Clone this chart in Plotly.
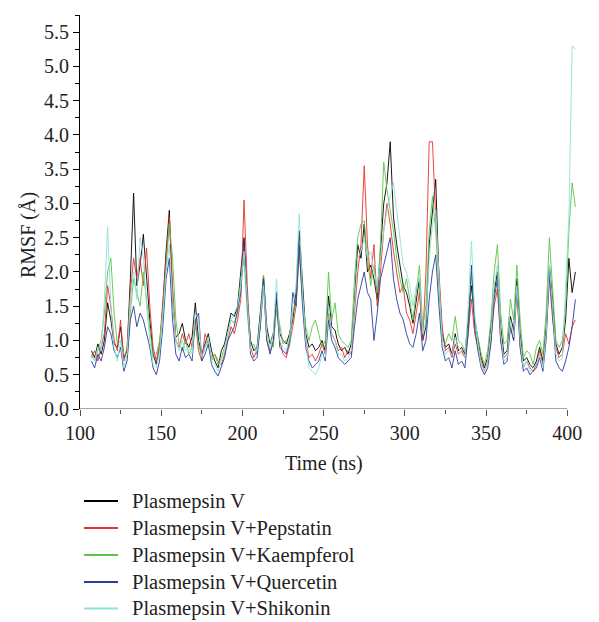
import plotly.graph_objects as go

residues = list(range(107, 406, 2))

plasmepsin_v = [
    0.85, 0.75, 0.95, 0.8, 1.0, 1.55, 1.3, 0.95, 0.9, 1.2,
    0.75, 0.85, 1.9, 3.15, 1.8, 2.1, 2.55, 1.9, 1.3, 0.8,
    0.65, 0.9, 1.5, 2.3, 2.9, 1.6, 1.05, 1.1, 1.25, 1.0,
    0.9, 1.05, 1.55, 1.0, 0.8, 0.95, 1.1, 0.85, 0.7, 0.6,
    0.85, 0.95, 1.2, 1.4, 1.35, 1.5, 2.0, 2.5, 1.6, 1.0,
    0.85, 0.9, 1.4, 1.95, 1.2, 0.95, 1.1, 1.6, 1.1, 1.0,
    0.95, 1.1, 1.3, 1.7, 2.6, 1.8, 1.1, 0.9, 0.95, 0.85,
    0.9, 1.0, 0.85, 1.65, 1.2, 1.15, 0.95, 0.85, 0.9, 0.8,
    0.95, 1.6, 2.4, 2.2, 2.7, 2.0, 2.1, 1.9, 1.6, 2.3,
    3.0, 3.3, 3.9, 2.8, 2.4, 2.1, 1.8, 1.7, 1.5, 1.25,
    1.6, 1.9, 1.0, 1.2, 2.4, 2.9, 3.35, 1.9, 1.1, 0.9,
    0.95, 0.8, 1.1, 0.85, 0.9, 0.8, 1.3, 1.8, 1.3, 1.0,
    0.75, 0.6, 0.75, 1.2, 1.7, 2.0, 1.2, 0.8, 0.85, 1.35,
    1.15, 1.9, 1.1, 0.7, 0.75, 0.65, 0.6, 0.7, 0.9, 0.7,
    1.2, 2.1, 1.6, 0.95, 0.8, 0.9, 1.3, 2.2, 1.7, 2.0,
]

pepstatin = [
    0.75, 0.85, 0.7, 0.9, 1.1, 1.8, 1.5, 1.0, 0.85, 1.3,
    0.7, 0.9, 1.7, 2.2, 1.9, 2.2, 1.8, 2.35, 1.5, 0.9,
    0.7, 0.95, 1.6, 2.2, 2.8, 1.8, 1.0, 0.9, 1.1, 0.95,
    1.1, 0.9, 1.3, 0.85, 0.7, 1.1, 0.95, 0.75, 0.8, 0.7,
    0.65, 0.8, 1.0, 1.2, 1.1, 1.3, 1.6, 3.05, 1.8, 0.9,
    0.75, 0.85, 1.2, 1.8, 1.0, 0.85, 0.95, 1.5, 1.0, 0.8,
    0.75, 0.95, 1.2, 1.5, 2.3, 1.6, 1.0, 0.75, 0.8, 0.7,
    0.8, 0.95, 0.8, 1.4, 1.1, 1.0, 0.85, 0.9, 0.75, 0.85,
    0.8, 1.4, 2.0, 2.4, 3.55, 2.4, 1.9, 2.4, 1.5, 2.0,
    2.6, 3.0, 2.7, 2.3, 2.0, 1.7, 1.8, 1.4, 1.3, 1.1,
    1.4, 1.7, 1.0, 2.0, 3.9, 3.9, 2.8, 2.0, 1.2, 0.85,
    0.9, 0.75, 0.95, 0.8, 0.85, 0.75, 1.1, 1.6, 1.1, 0.9,
    0.7, 0.55, 0.7, 1.0, 1.5, 1.75, 1.0, 0.75, 0.8, 1.2,
    1.0, 1.7, 0.9, 0.6, 0.7, 0.6, 0.55, 0.65, 0.85, 0.65,
    1.1, 1.9, 1.3, 0.9, 0.75, 0.8, 1.1, 0.95, 1.2, 1.3,
]

kaempferol = [
    0.8, 0.7, 0.85, 1.0, 1.4, 2.0, 2.2, 1.4, 0.95, 1.0,
    0.8, 0.75, 1.4, 1.9, 1.7, 1.5, 2.0, 1.6, 1.2, 0.75,
    0.8, 1.0, 1.4, 2.1, 2.7, 2.2, 1.3, 0.95, 0.85, 1.0,
    0.8, 0.9, 1.2, 0.95, 0.75, 0.9, 1.0, 0.7, 0.8, 0.65,
    0.75, 0.9, 1.1, 1.3, 1.25, 1.4, 1.9, 2.2, 1.4, 0.9,
    0.95, 0.8, 1.3, 1.95, 1.1, 1.0, 0.9, 1.5, 1.2, 0.95,
    1.0, 0.9, 1.4, 1.6, 2.4, 1.6, 1.2, 1.0, 1.2, 1.3,
    1.1, 0.9, 1.0, 2.0, 1.3, 1.55, 1.1, 1.0, 0.95, 0.9,
    1.0, 1.9, 2.5, 2.7, 2.75, 2.2, 1.8, 2.1, 1.7, 2.4,
    3.6, 3.2, 2.9, 2.6, 2.2, 1.9, 1.7, 1.9, 1.6, 1.3,
    1.7, 2.1, 1.2, 1.5, 2.6, 3.1, 2.6, 1.8, 1.0, 0.95,
    1.1, 1.0, 1.35, 1.0, 0.95, 0.85, 1.2, 2.0, 1.3, 1.05,
    0.8, 0.65, 0.85, 1.3, 2.0, 2.4, 1.4, 0.95, 1.0, 1.6,
    1.3, 2.1, 1.3, 0.75, 0.85, 0.8, 0.65, 0.9, 1.0, 0.8,
    1.4, 2.5, 1.8, 1.0, 0.9, 1.0, 1.5, 2.6, 3.3, 2.95,
]

quercetin = [
    0.7, 0.6, 0.8, 0.7, 0.9, 1.2, 1.1, 0.85, 0.75, 0.9,
    0.55, 0.7, 1.3, 1.5, 1.2, 1.4, 1.3, 1.1, 0.9, 0.6,
    0.5, 0.7, 1.2, 1.9, 2.2, 1.3, 0.8, 0.7, 0.9, 0.75,
    0.8, 0.7, 1.3, 1.4, 0.7, 0.8, 0.95, 0.65, 0.55, 0.48,
    0.6, 0.75, 1.0, 1.1, 1.2, 1.45, 1.7, 2.4, 1.5, 0.8,
    0.7, 0.75, 1.2, 1.9, 1.0, 0.8, 1.0, 1.7, 0.9, 0.85,
    0.8, 1.0, 1.7, 1.5, 2.4, 1.5, 0.9, 0.7, 0.6, 0.65,
    0.7, 0.85, 0.7, 1.3, 1.0, 0.9, 0.75, 0.7, 0.65, 0.7,
    0.75, 1.2, 1.6, 1.8, 2.0, 1.7, 1.6, 1.0, 1.4, 1.9,
    2.1, 2.3, 2.5, 1.9, 1.6, 1.4, 1.3, 1.1, 0.95, 0.9,
    1.1, 1.4, 0.85, 1.0, 1.6, 2.0, 2.25, 1.5, 0.9, 0.7,
    0.75, 0.6, 0.85, 0.65, 0.7, 0.6, 1.1, 2.1, 1.2, 0.85,
    0.6, 0.5, 0.6, 0.95, 1.6, 1.9, 1.0, 0.65, 0.7, 1.2,
    1.0, 1.8, 0.9, 0.55, 0.6, 0.5, 0.55, 0.6, 0.75, 0.55,
    1.0, 2.0, 1.4, 0.7, 0.6, 0.55, 0.7, 0.9, 1.2, 1.6,
]

shikonin = [
    0.8, 0.7, 0.9, 0.85, 1.6, 2.65, 1.5, 0.9, 0.7, 1.0,
    0.6, 0.8, 1.6, 2.0, 1.6, 2.5, 2.2, 1.5, 1.0, 0.65,
    0.6, 0.85, 1.4, 2.0, 2.4, 1.6, 1.0, 0.85, 1.0, 0.85,
    0.9, 0.8, 1.4, 1.3, 0.75, 0.9, 1.05, 0.7, 0.65, 0.55,
    0.7, 0.85, 1.1, 1.3, 1.4, 1.5, 1.8, 2.3, 1.6, 0.85,
    0.8, 0.85, 1.3, 1.8, 1.1, 0.9, 1.1, 1.9, 1.0, 0.9,
    0.85, 1.05, 1.5, 1.8, 2.85, 1.7, 1.0, 0.6, 0.55, 0.5,
    0.6, 0.8, 0.75, 1.5, 1.1, 1.0, 0.8, 0.8, 0.7, 0.75,
    0.85, 1.5, 2.2, 2.3, 2.5, 2.2, 2.3, 2.0, 1.8, 2.2,
    2.6, 2.9, 3.1, 3.3, 2.9, 2.5, 2.1, 2.0, 1.8, 1.5,
    1.8, 1.9, 1.1, 1.3, 2.2, 2.7, 2.9, 1.9, 1.0, 0.8,
    0.85, 0.8, 1.05, 0.9, 0.8, 0.75, 1.5, 2.45, 1.4, 0.95,
    0.65, 0.55, 0.7, 1.1, 1.8, 2.1, 1.1, 0.7, 0.75, 1.3,
    1.05, 1.8, 1.0, 0.6, 0.7, 0.55, 0.6, 0.65, 0.8, 0.6,
    1.1, 2.1, 1.5, 0.8, 0.7, 0.75, 1.8, 2.8, 5.3, 5.25,
]

series_names = [
    "Plasmepsin V",
    "Plasmepsin V+Pepstatin",
    "Plasmepsin V+Kaempferol",
    "Plasmepsin V+Quercetin",
    "Plasmepsin V+Shikonin",
]
series_values = [plasmepsin_v, pepstatin, kaempferol, quercetin, shikonin]
series_colors = ["#000000", "#e5322b", "#5cc545", "#2a3d9c", "#8fe1dc"]

x_ticks = [100, 150, 200, 250, 300, 350, 400]
y_ticks = [0.0, 0.5, 1.0, 1.5, 2.0, 2.5, 3.0, 3.5, 4.0, 4.5, 5.0, 5.5]

FONT = "Liberation Serif, Times New Roman, serif"
FS = 20
TXT = "#222222"

# figure geometry (page has an 8px body margin)
W, H = 591, 614
ML, MR, MT, MB = 72, 22, 7, 213
PW, PH = W - ML - MR, H - MT - MB


def px(fx):
    return (fx - ML) / PW


def py(fy):
    return (H - MB - fy) / PH


fig = go.Figure()
for name, vals, col in zip(series_names, series_values, series_colors):
    fig.add_trace(go.Scatter(
        x=residues, y=vals, mode="lines", name=name,
        line=dict(color=col, width=0.9), showlegend=False,
    ))

shapes = [dict(type="line", xref="x", yref="y", x0=100, x1=400, y0=0, y1=0,
               line=dict(color="#555555", width=1.2), layer="above")]
annotations = [
    dict(text="Time (ns)", xref="paper", yref="paper", x=px(315.5), y=py(455),
         showarrow=False, xanchor="center", yanchor="middle",
         font=dict(family=FONT, size=FS, color=TXT)),
    dict(text="RMSF (Å)", xref="paper", yref="paper", x=px(20), y=py(227),
         showarrow=False, xanchor="center", yanchor="middle", textangle=-90,
         font=dict(family=FONT, size=FS, color=TXT)),
]

# legend rows (manual, to match spacing)
row_y = [493, 520, 547, 574, 600.5]
for name, col, ry in zip(series_names, series_colors, row_y):
    shapes.append(dict(type="line", xref="paper", yref="paper",
                       x0=px(76), x1=px(110), y0=py(ry), y1=py(ry),
                       line=dict(color=col, width=2)))
    annotations.append(dict(text=name, xref="paper", yref="paper",
                            x=px(122), y=py(ry), showarrow=False,
                            xanchor="left", yanchor="middle",
                            font=dict(family=FONT, size=20.5, color=TXT)))

fig.update_layout(
    width=W, height=H,
    margin=dict(l=ML, r=MR, t=MT, b=MB, autoexpand=False),
    paper_bgcolor="white", plot_bgcolor="white",
    font=dict(family=FONT, size=FS, color=TXT),
    showlegend=False,
    shapes=shapes,
    annotations=annotations,
    xaxis=dict(
        range=[100, 406], tickvals=x_ticks, ticktext=[str(v) for v in x_ticks],
        showgrid=False, zeroline=False, showline=False, automargin=False,
        ticks="outside", ticklen=6, tickwidth=1.2, tickcolor="#555555",
        minor=dict(dtick=25, tick0=100, ticks="outside", ticklen=4, tickcolor="#555555", tickwidth=1.2, showgrid=False),
        tickfont=dict(family=FONT, size=FS, color=TXT),
    ),
    yaxis=dict(
        range=[0, 5.75], tickvals=y_ticks, ticktext=[f"{v:.1f}" for v in y_ticks],
        showgrid=False, zeroline=False, showline=True, linecolor="#000000", linewidth=1.2,
        automargin=False,
        ticks="outside", ticklen=6, tickwidth=1.2, tickcolor="#000000",
        minor=dict(dtick=0.25, tick0=0, ticks="outside", ticklen=4, tickcolor="#000000", tickwidth=1.2, showgrid=False),
        tickfont=dict(family=FONT, size=FS, color=TXT),
    ),
)

fig.write_html("out.html")
